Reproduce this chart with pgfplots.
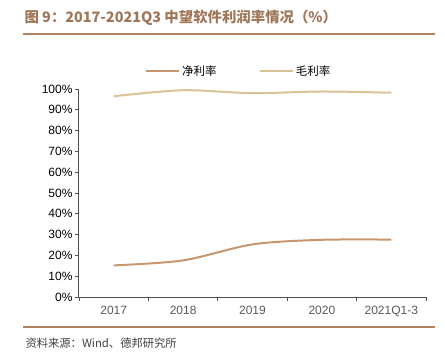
\documentclass[border=0pt]{standalone}
\usepackage{fontspec}
\setmainfont{Liberation Sans}
\newfontfamily\cjk{Noto Sans CJK SC}
\usepackage{pgfplots}
\pgfplotsset{compat=1.18}
\definecolor{netc}{RGB}{200,150,110}
\definecolor{grossc}{RGB}{215,195,150}
\definecolor{titlec}{RGB}{160,118,88}
\definecolor{rulec}{RGB}{180,130,95}
\definecolor{axisc}{RGB}{80,80,80}
\begin{document}
\begin{tikzpicture}[x=1pt,y=1pt]
\path (0,0) rectangle (445,357);
\node[anchor=west,text=titlec,font=\cjk\bfseries\fontsize{14.4}{16}\selectfont] at (21,339) {图 9：2017-2021Q3 中望软件利润率情况（\%）};
\draw[rulec,line width=1.3pt] (23,323) -- (435,323);
\draw[rulec,line width=1.1pt] (23,30) -- (435,30);
\node[anchor=west,text=black!75,font=\cjk\fontsize{11.3}{13}\selectfont] at (22,14) {资料来源：Wind、德邦研究所};
\begin{axis}[
  at={(79pt,60pt)}, anchor=south west,
  scale only axis, width=347pt, height=208pt,
  xmin=-0.5, xmax=4.5, ymin=0, ymax=100,
  axis x line=bottom, axis y line=left,
  axis line style={axisc, line width=1pt, -},
  xtick={0,1,2,3,4},
  xticklabels={2017,2018,2019,2020,2021Q1-3},
  x tick label style={text=black!65, font=\fontsize{12}{14}\selectfont, yshift=-2pt},
  major x tick style={draw=none},
  minor xtick={-0.5,0.5,1.5,2.5,3.5,4.5},
  minor x tick style={axisc, line width=0.8pt},
  minor tick length=4pt,
  major tick length=4pt,
  tick align=outside,
  ytick={0,10,...,100},
  yticklabel={\pgfmathprintnumber{\tick}\%},
  y tick label style={text=black, font=\fontsize{12}{14}\selectfont, xshift=1pt},
  y tick style={axisc, line width=0.8pt},
  /pgf/number format/assume math mode=true,
  legend columns=2,
  legend style={at={(0.46,1.087)}, anchor=center, draw=none, fill=none,
    font=\cjk\fontsize{11.5}{13}\selectfont,
    /tikz/every even column/.append style={column sep=40pt}},
  legend image code/.code={\draw[#1, line width=2.2pt] (0pt,0pt) -- (33pt,0pt);},
]
\addplot[netc, line width=2pt, smooth] coordinates {(0,15.2) (1,17.6) (2,25.3) (3,27.5) (4,27.6)};
\addlegendentry{净利率}
\addplot[grossc, line width=2pt, smooth] coordinates {(0,96.5) (1,99.4) (2,98.0) (3,98.8) (4,98.2)};
\addlegendentry{毛利率}
\end{axis}
\end{tikzpicture}
\end{document}
